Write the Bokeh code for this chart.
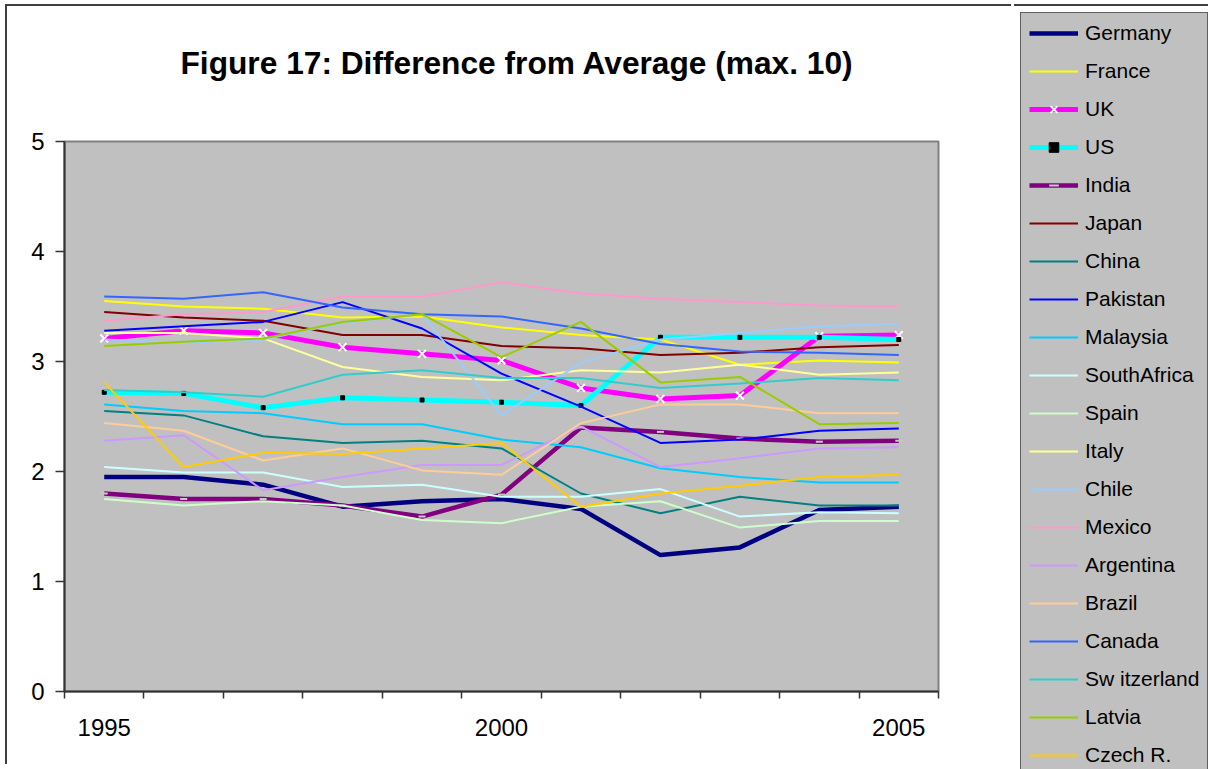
from bokeh.plotting import figure
from bokeh.models import Legend, LegendItem, FixedTicker, Range1d, Title
from bokeh.embed import file_html
from bokeh.resources import INLINE

years = [1995, 1996, 1997, 1998, 1999, 2000, 2001, 2002, 2003, 2004, 2005]
tick_labels = {1995: "1995", 2000: "2000", 2005: "2005"}

germany = [1.95, 1.95, 1.88, 1.68, 1.73, 1.75, 1.66, 1.24, 1.31, 1.65, 1.68]
france = [3.55, 3.50, 3.48, 3.40, 3.41, 3.31, 3.24, 3.20, 2.97, 3.01, 2.99]
uk = [3.21, 3.28, 3.26, 3.13, 3.07, 3.01, 2.76, 2.66, 2.69, 3.23, 3.24]
us = [2.72, 2.71, 2.58, 2.67, 2.65, 2.63, 2.60, 3.22, 3.22, 3.22, 3.20]
india = [1.80, 1.75, 1.75, 1.69, 1.59, 1.79, 2.40, 2.36, 2.30, 2.27, 2.28]
japan = [3.45, 3.40, 3.37, 3.24, 3.24, 3.14, 3.12, 3.06, 3.08, 3.13, 3.15]
china = [2.55, 2.51, 2.32, 2.26, 2.28, 2.21, 1.80, 1.62, 1.77, 1.69, 1.69]
pakistan = [3.28, 3.32, 3.36, 3.54, 3.30, 2.89, 2.59, 2.26, 2.29, 2.37, 2.39]
malaysia = [2.61, 2.55, 2.53, 2.43, 2.43, 2.29, 2.22, 2.03, 1.95, 1.90, 1.90]
south_africa = [2.04, 1.99, 1.99, 1.86, 1.88, 1.77, 1.77, 1.84, 1.59, 1.63, 1.62]
spain = [1.75, 1.69, 1.73, 1.69, 1.56, 1.53, 1.68, 1.73, 1.49, 1.55, 1.55]
italy = [3.26, 3.26, 3.21, 2.95, 2.86, 2.83, 2.92, 2.90, 2.97, 2.88, 2.90]
chile = [3.20, 3.17, 3.20, 3.35, 3.43, 2.51, 2.99, 3.20, 3.26, 3.32, 3.34]
mexico = [3.37, 3.43, 3.45, 3.59, 3.59, 3.72, 3.62, 3.57, 3.54, 3.51, 3.50]
argentina = [2.28, 2.33, 1.83, 1.95, 2.06, 2.06, 2.41, 2.04, 2.12, 2.21, 2.22]
brazil = [2.44, 2.37, 2.10, 2.21, 2.01, 1.97, 2.44, 2.61, 2.61, 2.53, 2.53]
canada = [3.59, 3.57, 3.63, 3.49, 3.43, 3.41, 3.30, 3.16, 3.09, 3.08, 3.06]
switzerland = [2.74, 2.72, 2.68, 2.88, 2.92, 2.85, 2.85, 2.76, 2.80, 2.85, 2.83]
latvia = [3.14, 3.18, 3.21, 3.36, 3.43, 3.04, 3.36, 2.81, 2.86, 2.43, 2.44]
czech = [2.81, 2.04, 2.17, 2.16, 2.21, 2.26, 1.68, 1.80, 1.87, 1.95, 1.97]

names = ["Germany", "France", "UK", "US", "India", "Japan", "China", "Pakistan",
         "Malaysia", "SouthAfrica", "Spain", "Italy", "Chile", "Mexico",
         "Argentina", "Brazil", "Canada", "Sw itzerland", "Latvia", "Czech R."]
series = [germany, france, uk, us, india, japan, china, pakistan, malaysia,
          south_africa, spain, italy, chile, mexico, argentina, brazil, canada,
          switzerland, latvia, czech]
colors = ["#000080", "#FFFF00", "#FF00FF", "#00FFFF", "#800080", "#800000",
          "#008080", "#0000FF", "#00CCFF", "#CCFFFF", "#CCFFCC", "#FFFF99",
          "#99CCFF", "#FF99CC", "#CC99FF", "#FFCC99", "#3366FF", "#33CCCC",
          "#99CC00", "#FFCC00"]
widths = {"Germany": 4.5, "UK": 5, "US": 5, "India": 4.5}

FONT = "Liberation Sans"


def add_series(fig, name, vals, col):
    lw = widths.get(name, 2)
    rs = [fig.line(years, vals, line_color=col, line_width=lw)]
    if name == "UK":
        rs.append(fig.scatter(years, vals, marker="x", size=11, line_color="white",
                              line_width=2))
    elif name == "US":
        rs.append(fig.scatter(years, vals, marker="square", size=4,
                              fill_color="black", line_color="black"))
    elif name == "India":
        rs.append(fig.scatter(years, vals, marker="dash", size=7,
                              line_color="#C8C8C8", line_width=2))
    return rs


# ---------------- main chart ----------------
p = figure(width=1006, height=760, output_backend="svg", toolbar_location=None,
           x_range=Range1d(1994.5, 2005.5), y_range=Range1d(0, 5),
           min_border_left=57, min_border_right=75, min_border_top=135,
           min_border_bottom=75)
p.styles = {"border-top": "2px solid #404040", "border-left": "2px solid #404040",
            "margin-left": "5px", "margin-top": "4px"}
p.background_fill_color = "#C0C0C0"
p.border_fill_color = "white"
p.outline_line_color = "#808080"
p.outline_line_width = 2
p.grid.visible = False

# empty spacer between the frame and the title, so the title sits higher
spacer = Title(text=" ", text_font_size="10px", standoff=43)
p.add_layout(spacer, "above")

p.title.text = "Figure 17: Difference from Average (max. 10)"
p.title.text_font = FONT
p.title.text_font_style = "bold"
p.title.text_font_size = "31.7px"
p.title.text_color = "black"
p.title.align = "left"
p.title.offset = 116
p.title.vertical_align = "bottom"
p.title.standoff = 10

# x axis: labels at category centres, tick marks between categories
xa = p.xaxis[0]
xa.ticker = FixedTicker(ticks=[1995, 2000, 2005],
                        minor_ticks=[y - 0.5 for y in years] + [years[-1] + 0.5])
xa.major_label_overrides = tick_labels
xa.major_tick_out = 7
xa.major_tick_in = 0
xa.major_tick_line_color = None
xa.minor_tick_out = 7
xa.minor_tick_in = 0
xa.minor_tick_line_color = "#333333"
xa.minor_tick_line_width = 1.5
xa.axis_line_color = "#333333"
xa.axis_line_width = 2
xa.major_label_standoff = 20
xa.major_label_text_font = FONT
xa.major_label_text_font_size = "24px"
xa.major_label_text_color = "black"

ya = p.yaxis[0]
ya.ticker = FixedTicker(ticks=[0, 1, 2, 3, 4, 5])
ya.major_tick_out = 9
ya.major_tick_in = 0
ya.minor_tick_out = 0
ya.minor_tick_in = 0
ya.major_tick_line_color = "#333333"
ya.major_tick_line_width = 1.5
ya.axis_line_color = "#333333"
ya.axis_line_width = 2
ya.major_label_standoff = 11
ya.major_label_text_font = FONT
ya.major_label_text_font_size = "24px"
ya.major_label_text_color = "black"

for name, vals, col in zip(names, series, colors):
    add_series(p, name, vals, col)

# ---------------- legend panel (own figure, placed at the right) ----------------
lf = figure(width=194, height=763, output_backend="svg", toolbar_location=None,
            x_range=Range1d(0, 1), y_range=Range1d(0, 1),
            x_axis_location=None, y_axis_location=None, min_border=0)
lf.styles = {"position": "absolute", "left": "1014px", "top": "4px",
             "border-top": "2px solid #404040"}
lf.outline_line_color = None
lf.grid.visible = False
lf.background_fill_color = "white"
lf.border_fill_color = "white"

items = []
for name, vals, col in zip(names, series, colors):
    # same series drawn outside the legend panel's view; only the legend shows
    items.append(LegendItem(label=name, renderers=add_series(lf, name, vals, col)))

legend = Legend(items=items, location="top_left", orientation="vertical",
                padding=8, spacing=14, margin=6,
                label_height=24, glyph_height=24, glyph_width=49,
                label_standoff=7, label_width=112,
                label_text_font=FONT, label_text_font_size="21px",
                label_text_color="black",
                border_line_color="black", border_line_width=1,
                background_fill_color="#C0C0C0", background_fill_alpha=1.0)
lf.add_layout(legend, "center")

open("out.html", "w").write(file_html([p, lf], INLINE))
